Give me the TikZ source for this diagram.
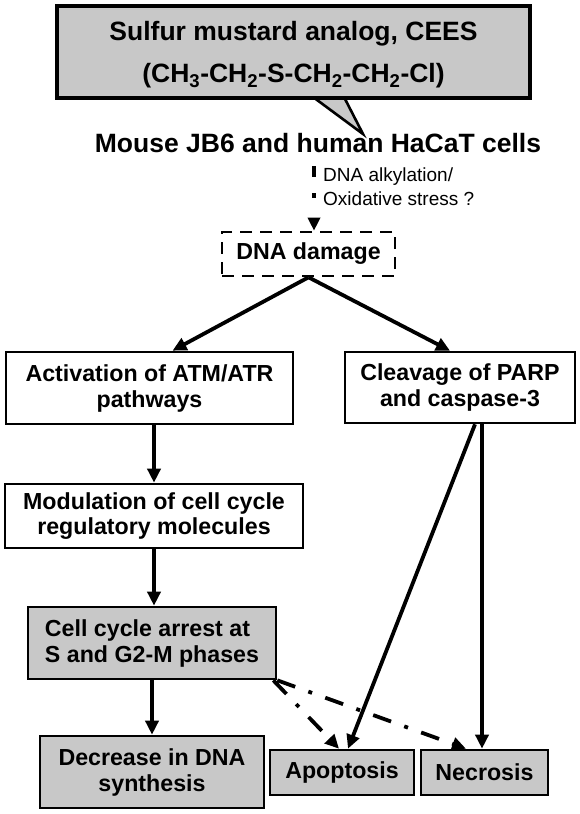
\documentclass[tikz,border=0pt]{standalone}
\usepackage{fontspec}
\setmainfont{Liberation Sans}
\usetikzlibrary{arrows.meta,calc}
\definecolor{boxgray}{RGB}{200,200,200}
\begin{document}
\begin{tikzpicture}[x=1pt,y=-1pt,
  pbox/.style={draw=black, line width=2.6pt, fill=white, inner sep=0pt, align=center,
    font=\fontsize{23.2}{26}\selectfont\bfseries},
  gbox/.style={pbox, fill=boxgray},
  arr/.style={line width=3.8pt, -{Triangle[length=14pt,width=13pt]}},
  ddarr/.style={arr, dash pattern=on 19pt off 14pt on 4pt off 14pt},
  dasharr/.style={line width=3.6pt, dash pattern=on 11pt off 16pt on 5pt off 40pt,
    -{Triangle[length=13pt,width=12pt]}}
]
\useasboundingbox[fill=white] (0,0) rectangle (579,814);

% callout tail (drawn first, box covers its base)
\path[fill=boxgray, draw=black, line width=2.6pt, line join=miter] (313,97) -- (363,134) -- (344,97);
\node[draw=black, line width=3.5pt, fill=boxgray, minimum width=473pt, minimum height=92pt,
  inner sep=0pt, align=center, font=\fontsize{26.5}{42}\selectfont\bfseries] (title) at (293.5,52)
  {\rule{0pt}{25pt}Sulfur mustard analog, CEES\\(CH\textsubscript{3}-CH\textsubscript{2}-S-CH\textsubscript{2}-CH\textsubscript{2}-Cl)};

\node[anchor=base, inner sep=0pt, font=\fontsize{26.5}{30}\selectfont\bfseries] (cells) at (318,152)
  {Mouse JB6 and human HaCaT cells};

\node[anchor=west, inner sep=0pt, align=left, font=\fontsize{19}{24}\selectfont] (lab) at (323,187)
  {DNA alkylation/\\Oxidative stress ?};

\node[pbox, dash pattern=on 12pt off 8pt, minimum width=173pt, minimum height=44pt] (dna) at (308.5,254) {DNA damage};

\node[pbox, minimum width=287pt, minimum height=72pt] (act) at (149.5,388) {Activation of ATM/ATR\\pathways};
\node[pbox, minimum width=230pt, minimum height=71pt] (cleave) at (460,387.5) {Cleavage of PARP\\and caspase-3};
\node[pbox, minimum width=298pt, minimum height=64pt, font=\fontsize{23.2}{25}\selectfont\bfseries] (mod) at (154,516) {Modulation of cell cycle\\regulatory molecules};
\node[gbox, align=left, minimum width=248pt, minimum height=72pt] (cell) at (152,643) {Cell cycle arrest at\\S and G2-M phases};
\node[gbox, minimum width=224pt, minimum height=72pt] (dec) at (152,772) {Decrease in DNA\\synthesis};
\node[gbox, minimum width=144pt, minimum height=45pt] (apop) at (342,772.5) {Apoptosis};
\node[gbox, minimum width=127pt, minimum height=45pt] (necr) at (484.5,772.5) {Necrosis};

% connectors
\coordinate (dtop) at ([xshift=5.5pt]dna.north);
\draw[dasharr] ($(dtop |- cells.south)+(0,14)$) -- (dtop);
\draw[arr] (dna.south) -- ([xshift=23pt]act.north);
\draw[arr] (dna.south) -- ([xshift=-10pt]cleave.north);
\draw[arr] (mod.north |- act.south) -- (mod.north);
\draw[arr] (mod.south) -- (mod.south |- cell.north);
\draw[arr] (cell.south) -- (cell.south |- dec.north);
\draw[arr] ([xshift=15pt]cleave.south) -- ([xshift=6pt]apop.north);
\draw[arr] ([xshift=22pt]cleave.south) -- ([xshift=-2.5pt]necr.north);
\draw[ddarr] ([xshift=-4pt]cell.south east) -- ([xshift=-3pt]apop.north);
\draw[ddarr] (cell.south east) -- ([xshift=-18.5pt]necr.north);
\end{tikzpicture}
\end{document}
